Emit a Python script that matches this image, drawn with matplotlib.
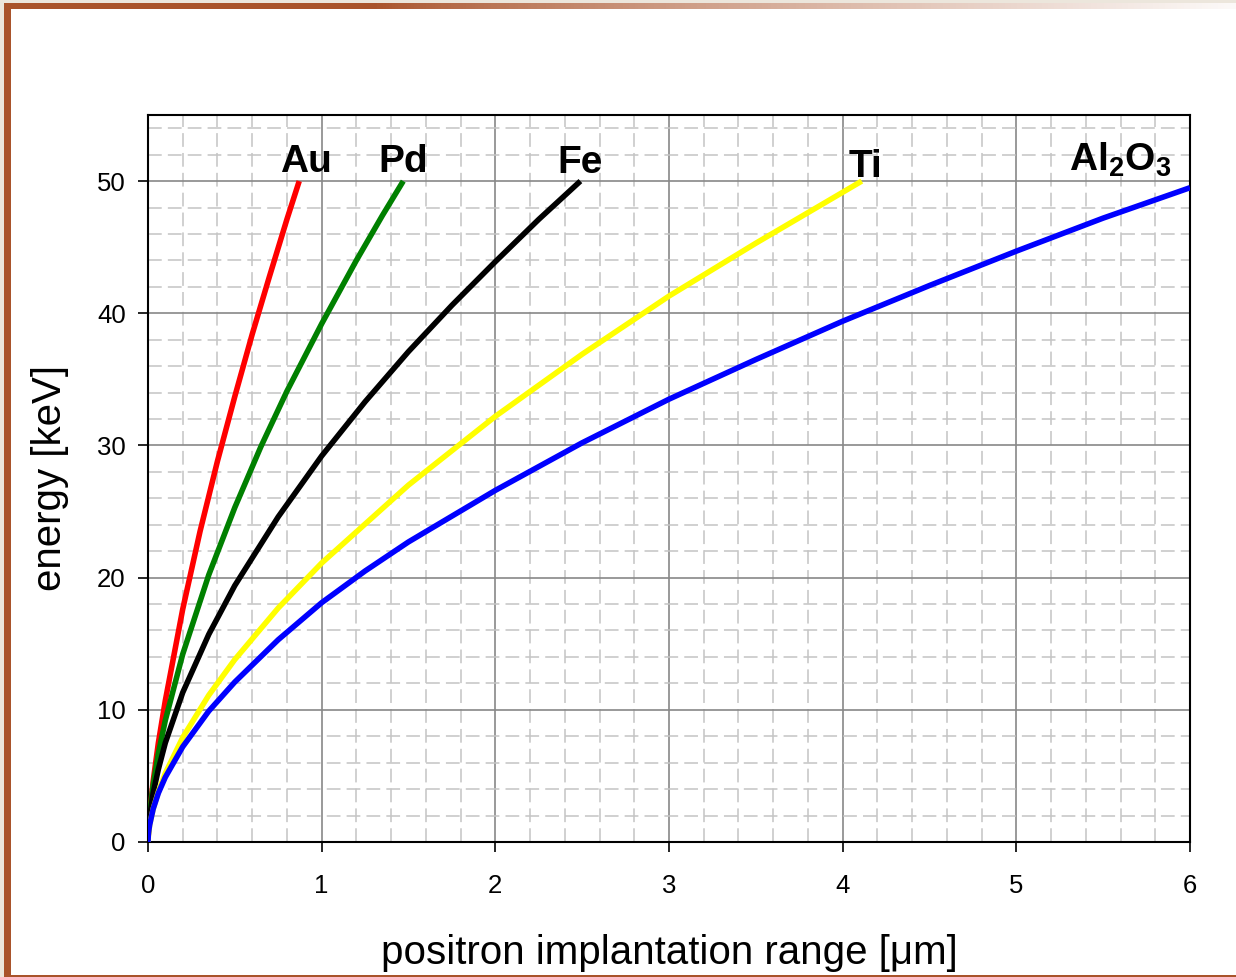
import numpy as np
import matplotlib
matplotlib.use("Agg")
import matplotlib.pyplot as plt
from matplotlib.ticker import MultipleLocator
from matplotlib.patches import Rectangle

plt.rcParams['font.family'] = ['Liberation Sans', 'DejaVu Sans']
plt.rcParams['mathtext.fontset'] = 'custom'
plt.rcParams['mathtext.rm'] = 'Liberation Sans'
plt.rcParams['mathtext.bf'] = 'Liberation Sans:bold'

# mean implantation depth (um) vs. positron energy (keV)
au_x = [0, 0.003, 0.01, 0.03, 0.06, 0.1, 0.2, 0.3, 0.4, 0.5, 0.6, 0.7, 0.8, 0.871]
au_e = [0, 0.9, 2.1, 4.6, 7.5, 10.7, 17.6, 23.5, 28.8, 33.7, 38.4, 42.8, 47.1, 50]

pd_x = [0, 0.003, 0.01, 0.03, 0.06, 0.1, 0.2, 0.35, 0.5, 0.65, 0.8, 1.0, 1.2, 1.35, 1.47]
pd_e = [0, 1.0, 2.2, 4.3, 6.7, 9.2, 14.2, 20.2, 25.3, 29.9, 34.1, 39.2, 44.0, 47.4, 50]

fe_x = [0, 0.003, 0.01, 0.03, 0.06, 0.1, 0.2, 0.35, 0.5, 0.75, 1.0, 1.25, 1.5,
        1.75, 2.0, 2.25, 2.49]
fe_e = [0, 0.9, 1.9, 3.7, 5.5, 7.5, 11.3, 15.7, 19.4, 24.6, 29.2, 33.3, 37.1,
        40.6, 43.9, 47.1, 50]

ti_x = [0, 0.003, 0.01, 0.03, 0.06, 0.1, 0.2, 0.35, 0.5, 0.75, 1.0, 1.5, 2.0,
        2.5, 3.0, 3.5, 4.11]
ti_e = [0, 0.6, 1.3, 2.5, 3.8, 5.2, 7.9, 11.1, 13.8, 17.7, 21.1, 27.0, 32.2,
        36.9, 41.3, 45.3, 50]

al_x = [0, 0.003, 0.01, 0.03, 0.06, 0.1, 0.2, 0.35, 0.5, 0.75, 1.0, 1.25, 1.5,
        2.0, 2.5, 3.0, 3.5, 4.0, 4.5, 5.0, 5.5, 6.0]
al_e = [0, 0.7, 1.3, 2.5, 3.7, 4.9, 7.2, 9.9, 12.1, 15.3, 18.1, 20.5, 22.7,
        26.6, 30.2, 33.5, 36.5, 39.4, 42.1, 44.7, 47.2, 49.5]

fig = plt.figure(figsize=(12.36, 9.77), dpi=100)

# slide frame: brown bar on the left, fading bar on top, thin line at bottom
brown = np.array([169, 83, 43]) / 255.0
fig.add_artist(Rectangle((0, 0), 0.0035, 1, transform=fig.transFigure,
                         color='#ECE6DC', lw=0, zorder=0))
fig.add_artist(Rectangle((0.0035, 0), 0.0058, 0.991, transform=fig.transFigure,
                         color=brown, lw=0, zorder=1))
fig.add_artist(Rectangle((0.0035, 0), 1, 0.0025, transform=fig.transFigure,
                         color=brown, lw=0, zorder=1))
top = fig.add_axes([0.0035, 0.9905, 0.9965, 0.0065])
top.axis('off')
t = np.linspace(0, 1, 400)
fade = np.clip((t - 0.30) / 0.70, 0, 1) ** 0.8
grad = np.ones((1, 400, 3))
for i in range(3):
    grad[0, :, i] = brown[i] + (1 - brown[i]) * fade * 0.97
top.imshow(grad, aspect='auto', extent=[0, 1, 0, 1])
band = fig.add_axes([0, 0.9965, 1, 0.0035])
band.axis('off')
band.add_patch(Rectangle((0, 0), 1, 1, color='#ECE6DC', lw=0))

ax = fig.add_axes([0.1197, 0.1382, 0.8431, 0.7441])

curve = dict(lw=4.0, zorder=5, solid_capstyle='butt', solid_joinstyle='round')
ax.plot(au_x, au_e, color='#FF0000', **curve)
ax.plot(pd_x, pd_e, color='#008000', **curve)
ax.plot(fe_x, fe_e, color='black', **curve)
ax.plot(ti_x, ti_e, color='#FFFF00', **curve)
ax.plot(al_x, al_e, color='#0000FF', **curve)

lbl = dict(fontsize=28, fontweight='bold', ha='center', va='baseline', zorder=6)
ax.text(0.91, 50.7, 'Au', **lbl)
ax.text(1.47, 50.7, 'Pd', **lbl)
ax.text(2.49, 50.6, 'Fe', **lbl)
ax.text(4.13, 50.3, 'Ti', **lbl)
ax.text(5.6, 50.8, r'$\mathbf{Al_2O_3}$', **lbl)

ax.set_xlim(0, 6)
ax.set_ylim(0, 55)
ax.xaxis.set_major_locator(MultipleLocator(1))
ax.xaxis.set_minor_locator(MultipleLocator(0.2))
ax.yaxis.set_major_locator(MultipleLocator(10))
ax.yaxis.set_minor_locator(MultipleLocator(2))

ax.grid(which='minor', color='#C4C4C4', lw=1.1, linestyle=(0, (9, 4)))
ax.grid(which='major', color='#888888', lw=1.2, linestyle='-')
ax.set_axisbelow(True)

ax.tick_params(which='major', direction='out', length=7, width=1.2,
               labelsize=18.5, top=False, right=False)
ax.tick_params(axis='x', pad=16)
ax.tick_params(axis='y', pad=9)
ax.tick_params(which='minor', length=0)
for s in ax.spines.values():
    s.set_linewidth(1.5)
    s.set_color('black')

ax.set_xlabel('positron implantation range [\u03bcm]', fontsize=29, labelpad=26)
ax.set_ylabel('energy [keV]', fontsize=29, labelpad=20)

fig.savefig('out.png', dpi=100)
